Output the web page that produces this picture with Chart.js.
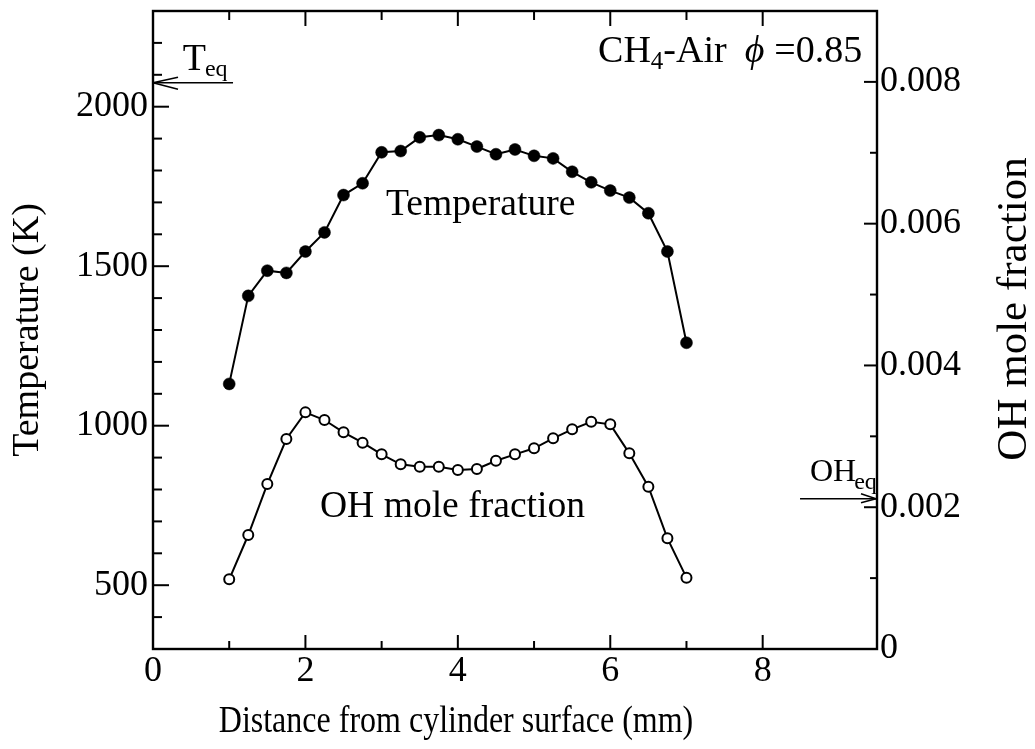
<!DOCTYPE html>
<html>
<head>
<meta charset="utf-8">
<script src="https://cdn.jsdelivr.net/npm/chart.js@4.4.1/dist/chart.umd.min.js"></script>
<style>
  html, body { margin: 0; padding: 0; background: #fff; }
  #wrap { width: 1035px; height: 749px; position: relative; }
</style>
</head>
<body>
<div id="wrap"><canvas id="c"></canvas></div>
<script>
// ---- data ----
const distance = [1.0, 1.25, 1.5, 1.75, 2.0, 2.25, 2.5, 2.75, 3.0, 3.25, 3.5, 3.75, 4.0,
                  4.25, 4.5, 4.75, 5.0, 5.25, 5.5, 5.75, 6.0, 6.25, 6.5, 6.75, 7.0];
const temperature = [1131, 1407, 1486, 1479, 1546, 1606, 1723, 1760, 1857, 1861, 1904, 1911, 1898,
                     1875, 1851, 1866, 1846, 1838, 1796, 1763, 1737, 1715, 1666, 1546, 1260];
const ohFraction = [0.000983, 0.001608, 0.002327, 0.002962, 0.003338, 0.003230, 0.003056, 0.002910,
                    0.002746, 0.002605, 0.002571, 0.002571, 0.002525, 0.002539, 0.002656, 0.002746,
                    0.002831, 0.002972, 0.003099, 0.003206, 0.003169, 0.002760, 0.002289, 0.001561, 0.001006];
const xTickLabels = [0, 2, 4, 6, 8];
const tempTickLabels = [500, 1000, 1500, 2000];
const ohTickLabels = [0, 0.002, 0.004, 0.006, 0.008];
const T_EQ = 2075;
const OH_EQ = 0.00212;

const FONT = '"Liberation Serif", "Times New Roman", serif';

function isLabeled(list, v) { return list.some(l => Math.abs(l - v) < 1e-9); }

const decor = {
  id: 'decor',
  afterDraw(chart) {
    const { ctx, chartArea: a, scales: { x, yT, yOH } } = chart;
    ctx.save();
    ctx.strokeStyle = '#000';
    ctx.fillStyle = '#000';
    ctx.lineCap = 'butt';
    const line = (x1, y1, x2, y2, w) => {
      ctx.lineWidth = w || 2;
      ctx.beginPath(); ctx.moveTo(x1, y1); ctx.lineTo(x2, y2); ctx.stroke();
    };
    // frame
    ctx.lineWidth = 2.4;
    ctx.strokeRect(a.left, a.top, a.right - a.left, a.bottom - a.top);

    // inward tick marks
    x.ticks.forEach(t => {
      if (!Number.isInteger(t.value) || t.value === 0) return;
      const px = x.getPixelForValue(t.value);
      const major = isLabeled(xTickLabels, t.value);
      line(px, a.bottom, px, a.bottom - (major ? 14 : 8));
      line(px, a.top, px, a.top + (major ? 15 : 9));
    });
    yT.ticks.forEach(t => {
      const py = yT.getPixelForValue(t.value);
      if (Math.abs(py - a.top) < 2 || Math.abs(py - a.bottom) < 2) return;
      const major = isLabeled(tempTickLabels, t.value);
      line(a.left, py, a.left + (major ? 16 : 9), py);
    });
    yOH.ticks.forEach(t => {
      const py = yOH.getPixelForValue(t.value);
      if (Math.abs(py - a.top) < 2 || Math.abs(py - a.bottom) < 2) return;
      const major = isLabeled(ohTickLabels, t.value);
      line(a.right, py, a.right - (major ? 13 : 7), py);
    });

    // T_eq arrow
    const ty = yT.getPixelForValue(T_EQ);
    const tx2 = x.getPixelForValue(1.05);
    line(a.left, ty, tx2, ty, 1.6);
    line(a.left, ty, a.left + 25, ty - 5.5, 1.6);
    line(a.left, ty, a.left + 25, ty + 6.5, 1.6);
    ctx.textBaseline = 'alphabetic';
    ctx.textAlign = 'left';
    ctx.font = '38px ' + FONT;
    const tLabX = x.getPixelForValue(0.39);
    ctx.fillText('T', tLabX, ty - 13);
    const tW = ctx.measureText('T').width;
    ctx.font = '24px ' + FONT;
    ctx.fillText('eq', tLabX + tW - 1, ty - 7);

    // OH_eq arrow
    const oy = yOH.getPixelForValue(OH_EQ);
    const ox1 = x.getPixelForValue(8.49);
    line(ox1, oy, a.right - 1, oy, 1.6);
    line(a.right - 1, oy, a.right - 16, oy - 5, 1.4);
    line(a.right - 1, oy, a.right - 16, oy + 4, 1.4);
    ctx.font = '32px ' + FONT;
    const oLabX = x.getPixelForValue(8.62);
    ctx.fillText('OH', oLabX, oy - 18);
    const ohW = ctx.measureText('OH').width;
    ctx.font = '24px ' + FONT;
    ctx.fillText('eq', oLabX + ohW - 2, oy - 10);

    // curve labels
    ctx.textAlign = 'center';
    ctx.font = '37.6px ' + FONT;
    ctx.fillText('Temperature', x.getPixelForValue(4.3), yT.getPixelForValue(1660));
    ctx.fillText('OH mole fraction', x.getPixelForValue(3.93), yOH.getPixelForValue(0.00186));

    // CH4-Air phi=0.85
    ctx.textAlign = 'left';
    let cx = x.getPixelForValue(5.84);
    const cy = yT.getPixelForValue(2140);
    const part = (txt, font, dy, gap) => {
      ctx.font = font;
      ctx.fillText(txt, cx, cy + (dy || 0));
      cx += ctx.measureText(txt).width + (gap || 0);
    };
    part('CH', '38px ' + FONT);
    part('4', '25px ' + FONT, 7);
    part('-Air', '38px ' + FONT, 0, 18);
    part('\u03D5', 'italic 38px ' + FONT, 0, 10);
    part('=0.85', '38px ' + FONT);

    // x axis title (slightly tall glyphs as in the scan)
    ctx.save();
    ctx.font = '32px ' + FONT;
    ctx.textAlign = 'center';
    ctx.translate(456, 732);
    ctx.scale(1, 1.18);
    ctx.fillText('Distance from cylinder surface (mm)', 0, 0);
    ctx.restore();

    // right axis title, reading bottom to top
    ctx.save();
    ctx.font = '43px ' + FONT;
    ctx.textAlign = 'center';
    ctx.textBaseline = 'middle';
    ctx.translate(1015, 309);
    ctx.rotate(-Math.PI / 2);
    ctx.fillText('OH mole fraction', 0, 0);
    ctx.restore();

    ctx.restore();
  }
};

const noPadV = s => { s.paddingTop = 0; s.paddingBottom = 0; };

new Chart(document.getElementById('c'), {
  type: 'line',
  data: {
    datasets: [
      {
        label: 'Temperature',
        data: distance.map((d, i) => ({ x: d, y: temperature[i] })),
        yAxisID: 'yT',
        borderColor: '#000',
        borderWidth: 2,
        pointRadius: 6,
        pointBackgroundColor: '#000',
        pointBorderColor: '#000',
        pointBorderWidth: 0.5,
        tension: 0
      },
      {
        label: 'OH mole fraction',
        data: distance.map((d, i) => ({ x: d, y: ohFraction[i] })),
        yAxisID: 'yOH',
        borderColor: '#000',
        borderWidth: 2,
        pointRadius: 5,
        pointBackgroundColor: '#fff',
        pointBorderColor: '#000',
        pointBorderWidth: 2,
        tension: 0
      }
    ]
  },
  options: {
    responsive: true,
    maintainAspectRatio: false,
    animation: false,
    events: [],
    layout: { padding: { top: 11, left: 0, right: 0, bottom: 0 } },
    plugins: { legend: { display: false }, tooltip: { enabled: false } },
    scales: {
      x: {
        type: 'linear', position: 'bottom', min: 0, max: 9.5,
        grid: { display: false, drawTicks: false },
        border: { display: false },
        ticks: {
          stepSize: 1, autoSkip: false, maxRotation: 0, padding: 1,
          color: '#000', font: { family: FONT, size: 36 },
          callback: v => isLabeled(xTickLabels, v) ? String(v) : ''
        },
        afterFit: s => { s.height = 100; s.paddingLeft = 0; s.paddingRight = 0; }
      },
      yT: {
        type: 'linear', position: 'left', min: 300, max: 2300,
        grid: { display: false, drawTicks: false },
        border: { display: false },
        ticks: {
          stepSize: 100, autoSkip: false, padding: 5,
          color: '#000', font: { family: FONT, size: 36 },
          callback: v => isLabeled(tempTickLabels, v) ? String(v) : ''
        },
        title: {
          display: true, text: 'Temperature (K)', color: '#000',
          font: { family: FONT, size: 38 }, padding: { top: 5, bottom: 0 }
        },
        afterFit: s => { s.width = 153; noPadV(s); }
      },
      yOH: {
        type: 'linear', position: 'right', min: 0, max: 0.009,
        grid: { display: false, drawTicks: false },
        border: { display: false },
        ticks: {
          stepSize: 0.001, autoSkip: false, padding: 3,
          color: '#000', font: { family: FONT, size: 36 },
          callback: v => {
            const l = ohTickLabels.find(q => Math.abs(q - v) < 1e-9);
            return l === undefined ? '' : (l === 0 ? '0' : l.toFixed(3));
          }
        },
        afterFit: s => { s.width = 158; noPadV(s); }
      }
    }
  },
  plugins: [decor]
});
</script>
</body>
</html>
